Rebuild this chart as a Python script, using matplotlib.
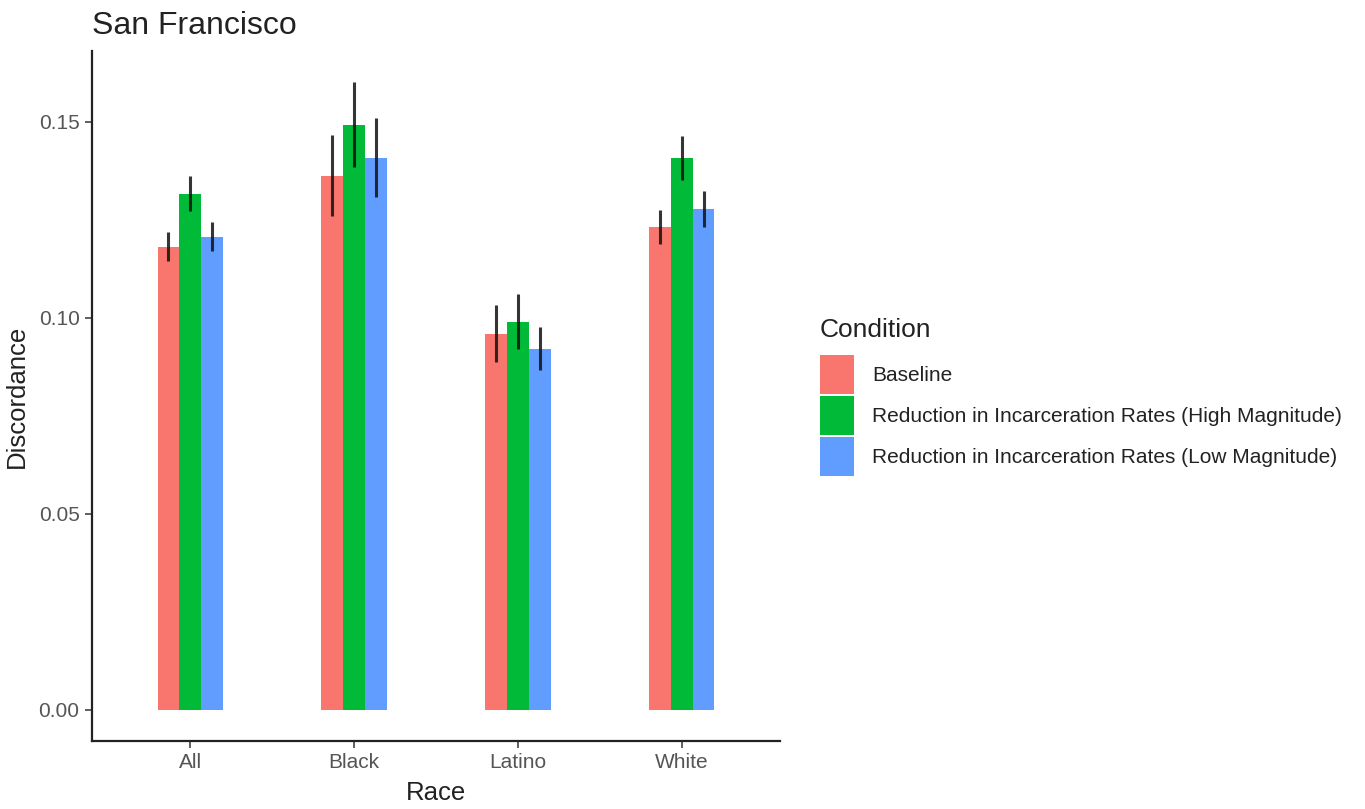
import matplotlib

matplotlib.use("Agg")
import matplotlib.pyplot as plt
import numpy as np
from matplotlib.patches import Patch

plt.rcParams["font.family"] = ["Liberation Sans", "DejaVu Sans"]

races = ["All", "Black", "Latino", "White"]
conditions = [
    "Baseline",
    "Reduction in Incarceration Rates (High Magnitude)",
    "Reduction in Incarceration Rates (Low Magnitude)",
]
colors = ["#F8766D", "#00BA38", "#619CFF"]

baseline = [0.1180, 0.1362, 0.0958, 0.1232]
baseline_lo = [0.1145, 0.1260, 0.0887, 0.1188]
baseline_hi = [0.1219, 0.1467, 0.1033, 0.1275]

high = [0.1316, 0.1490, 0.0990, 0.1406]
high_lo = [0.1273, 0.1385, 0.0921, 0.1352]
high_hi = [0.1362, 0.1602, 0.1060, 0.1462]

low = [0.1206, 0.1408, 0.0921, 0.1278]
low_lo = [0.1170, 0.1308, 0.0867, 0.1232]
low_hi = [0.1245, 0.1510, 0.0977, 0.1324]

series = [
    (baseline, baseline_lo, baseline_hi),
    (high, high_lo, high_hi),
    (low, low_lo, low_hi),
]

fig = plt.figure(figsize=(13.65, 8.09), dpi=100)
ax = fig.add_axes([92 / 1365, 1 - 741 / 809, (780 - 92) / 1365, (741 - 51) / 809])

x = np.arange(1, len(races) + 1)
dodge = 0.4
bar_w = dodge / len(series)
for i, ((vals, lo, hi), color) in enumerate(zip(series, colors)):
    pos = x + (i - 1) * bar_w
    ax.bar(pos, vals, width=bar_w, color=color, edgecolor="none", zorder=2)
    ax.vlines(pos, lo, hi, color="#111111", linewidth=2.2, alpha=0.85, zorder=3)

ax.set_xlim(0.4, 4.6)
ax.set_ylim(-0.008, 0.168)
ax.set_xticks(x)
ax.set_xticklabels(races)
ax.set_yticks([0.0, 0.05, 0.10, 0.15])
ax.set_yticklabels(["0.00", "0.05", "0.10", "0.15"])

for side in ("top", "right"):
    ax.spines[side].set_visible(False)
for side in ("left", "bottom"):
    ax.spines[side].set_linewidth(1.6)
    ax.spines[side].set_color("#222222")

ax.tick_params(axis="both", length=5, width=1.2, color="#444444",
               labelsize=15, labelcolor="#555555", pad=4)

ax.set_xlabel("Race", fontsize=18.5, color="#222222", labelpad=6)
ax.set_ylabel("Discordance", fontsize=18.5, color="#222222", labelpad=7)
ax.set_title("San Francisco", fontsize=23, loc="left", x=0.0, pad=12, color="#222222")

# legend title drawn separately so the gap above the keys matches
fig.text(820 / 1365, 1 - 330 / 809, "Condition", fontsize=19,
         color="#222222", ha="left", va="center")

handles = [Patch(facecolor=c, edgecolor="none") for c in colors]
leg = fig.legend(
    handles,
    conditions,
    loc="upper left",
    bbox_to_anchor=(820 / 1365, 1 - 355 / 809),
    frameon=False,
    fontsize=15,
    handlelength=1.65,
    handleheight=2.5,
    labelspacing=0.1,
    handletextpad=0.85,
    borderpad=0,
    borderaxespad=0,
)
for t in leg.get_texts():
    t.set_color("#222222")

fig.savefig("out.png", dpi=100)
